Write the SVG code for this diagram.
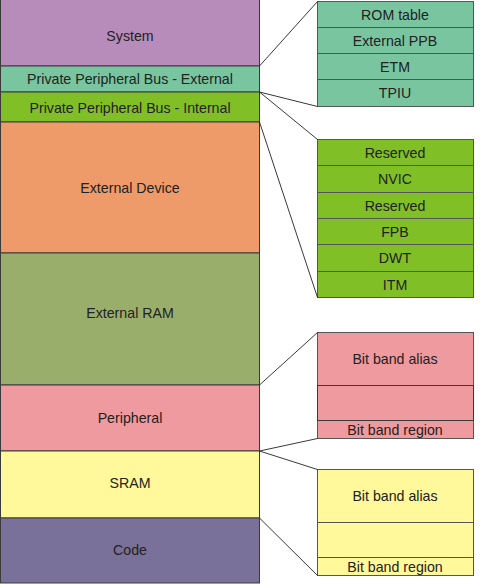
<svg xmlns="http://www.w3.org/2000/svg" width="500" height="584" viewBox="0 0 500 584">
<style>
rect{stroke:#3a3a3a;stroke-width:1}
.r rect{stroke:#555}
text{font-family:"Liberation Sans",Arial,sans-serif;font-size:14.2px;fill:#222;text-anchor:middle;dominant-baseline:central}
.c line{stroke:#222;stroke-width:0.9}
</style>
<g id="system"><rect x="0.5" y="-1" width="259" height="67" fill="#B88CBA"/><text x="130" y="36">System</text></g>
<g id="ppb-ext"><rect x="0.5" y="66" width="259" height="26" fill="#79C5A0"/><text x="130" y="79">Private Peripheral Bus - External</text></g>
<g id="ppb-int"><rect x="0.5" y="92" width="259" height="30" fill="#81BF27"/><text x="130" y="108">Private Peripheral Bus - Internal</text></g>
<g id="ext-device"><rect x="0.5" y="122" width="259" height="131" fill="#EF9A69"/><text x="130" y="188">External Device</text></g>
<g id="ext-ram"><rect x="0.5" y="253" width="259" height="132" fill="#9AAE6B"/><text x="130" y="313">External RAM</text></g>
<g id="peripheral"><rect x="0.5" y="385" width="259" height="66" fill="#EF9A9E"/><text x="130" y="418">Peripheral</text></g>
<g id="sram"><rect x="0.5" y="451" width="259" height="67" fill="#FFF99B"/><text x="130" y="483">SRAM</text></g>
<g id="code"><rect x="0.5" y="518" width="259" height="65" fill="#79719A"/><text x="130" y="550">Code</text></g>

<g id="ppb-ext-detail" class="r">
<rect x="317.5" y="1.5" width="156" height="26" fill="#79C5A0"/><text x="395" y="15">ROM table</text>
<rect x="317.5" y="27.5" width="156" height="26" fill="#79C5A0"/><text x="395" y="41">External PPB</text>
<rect x="317.5" y="53.5" width="156" height="26" fill="#79C5A0"/><text x="395" y="67">ETM</text>
<rect x="317.5" y="79.5" width="156" height="27" fill="#79C5A0"/><text x="395" y="93">TPIU</text>
</g>
<g id="ppb-int-detail" class="r">
<rect x="317.5" y="139.5" width="156" height="26" fill="#81BF27"/><text x="395" y="153">Reserved</text>
<rect x="317.5" y="165.5" width="156" height="27" fill="#81BF27"/><text x="395" y="179">NVIC</text>
<rect x="317.5" y="192.5" width="156" height="26" fill="#81BF27"/><text x="395" y="206">Reserved</text>
<rect x="317.5" y="218.5" width="156" height="26" fill="#81BF27"/><text x="395" y="232">FPB</text>
<rect x="317.5" y="244.5" width="156" height="27" fill="#81BF27"/><text x="395" y="258">DWT</text>
<rect x="317.5" y="271.5" width="156" height="26" fill="#81BF27"/><text x="395" y="285">ITM</text>
</g>
<g id="peripheral-detail" class="r">
<rect x="317.5" y="332.5" width="156" height="106" fill="#EF9A9E"/>
<rect x="317.5" y="385.5" width="156" height="35" fill="#EF9A9E" style="stroke:#3a3a3a"/>
<text x="395" y="359">Bit band alias</text>
<text x="395" y="430">Bit band region</text>
</g>
<g id="sram-detail" class="r">
<rect x="317.5" y="469.5" width="156" height="106" fill="#FFF99B"/>
<rect x="317.5" y="522.5" width="156" height="35" fill="#FFF99B"/>
<text x="395" y="496">Bit band alias</text>
<text x="395" y="567">Bit band region</text>
</g>

<g id="connectors" class="c">
<line x1="259.5" y1="66" x2="317.5" y2="1.5"/>
<line x1="259.5" y1="92" x2="317.5" y2="106.5"/>
<line x1="259.5" y1="92" x2="317.5" y2="139.5"/>
<line x1="259.5" y1="122" x2="317.5" y2="297.5"/>
<line x1="259.5" y1="385" x2="317.5" y2="332.5"/>
<line x1="259.5" y1="451" x2="317.5" y2="438.5"/>
<line x1="259.5" y1="451" x2="317.5" y2="469.5"/>
<line x1="259.5" y1="518" x2="317.5" y2="575.5"/>
</g>
</svg>
